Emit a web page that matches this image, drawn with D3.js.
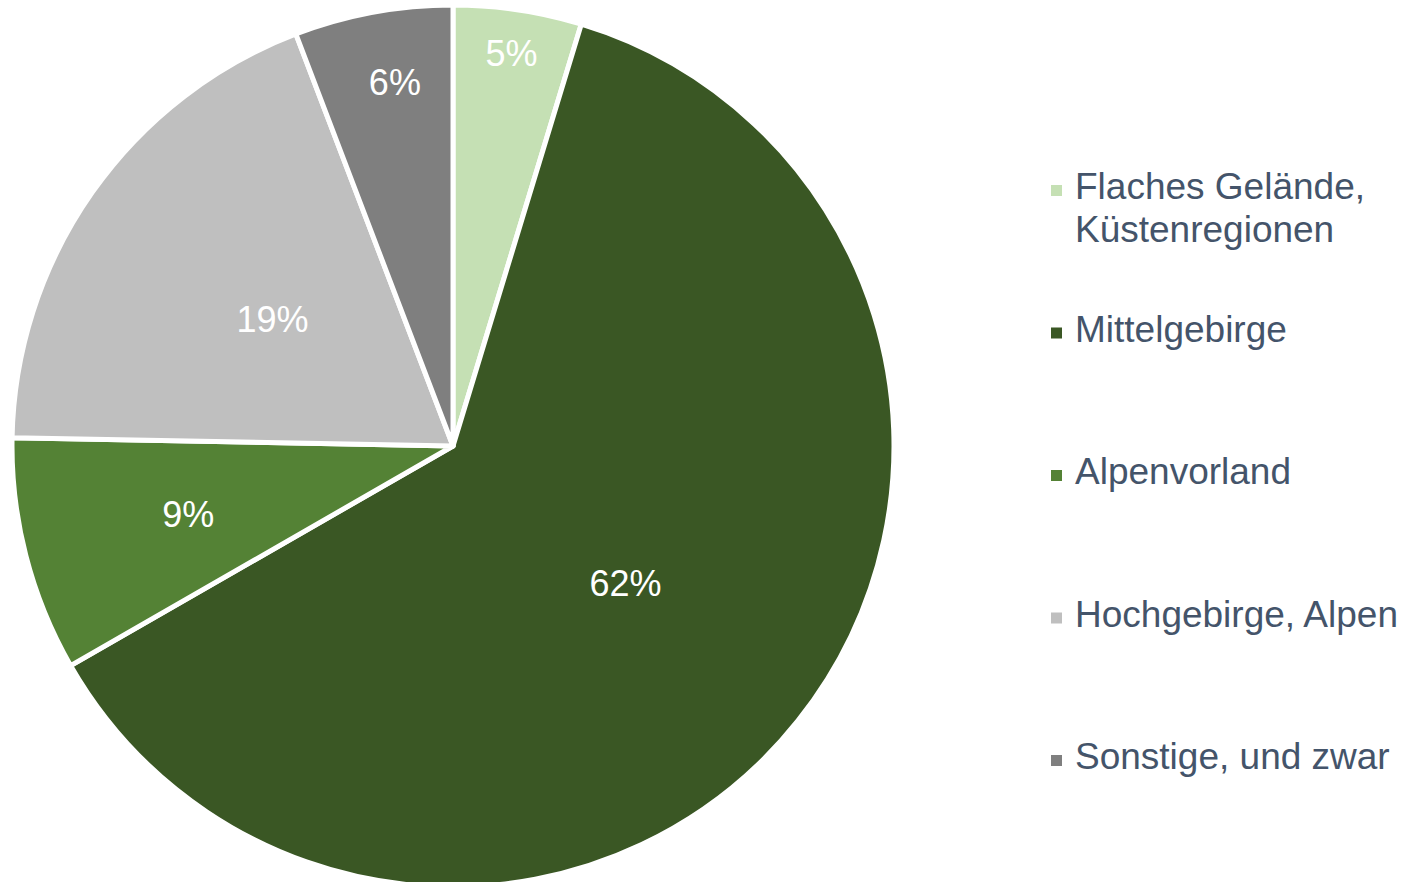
<!DOCTYPE html>
<html>
<head>
<meta charset="utf-8">
<script src="https://cdn.jsdelivr.net/npm/d3@7"></script>
<style>
  body { margin: 0; background: #fff; }
  text { font-family: "Liberation Sans", Arial, sans-serif; }
</style>
</head>
<body>
<div class="chart"></div>
<script>
var categories = [
    ["Flaches Gelände,", "Küstenregionen"],
    ["Mittelgebirge"],
    ["Alpenvorland"],
    ["Hochgebirge, Alpen"],
    ["Sonstige, und zwar"]
];
var shares = [4.7, 62.0, 8.6, 18.9, 5.8];
var colors = ["#C5E0B4", "#3A5724", "#548235", "#BFBFBF", "#7F7F7F"];
// how far out each percent label sits (fraction of radius), like Excel's best fit
var labelRadius = [0.9, 0.5, 0.62, 0.5, 0.84];

var svgWidth = 1403;
var svgHeight = 882;
var cx = 453, cy = 446, radius = 441;

var svg = d3.select(".chart")
    .append("svg")
    .attr("width", svgWidth)
    .attr("height", svgHeight);

var pieGroup = svg.append("g")
    .attr("transform", `translate(${cx}, ${cy})`);

var pie = d3.pie().sort(null).value(d => d);
var arcs = pie(shares);

var arc = d3.arc().innerRadius(0).outerRadius(radius);

pieGroup.selectAll("path")
    .data(arcs)
    .enter()
    .append("path")
    .attr("d", arc)
    .attr("fill", (d, i) => colors[i])
    .attr("stroke", "#fff")
    .attr("stroke-width", 5)
    .attr("stroke-linejoin", "round");

pieGroup.selectAll(".slice-label")
    .data(arcs)
    .enter()
    .append("text")
    .attr("class", "slice-label")
    .attr("transform", function(d, i) {
        var r = radius * labelRadius[i];
        var c = d3.arc().innerRadius(r).outerRadius(r).centroid(d);
        // Excel nudges the small top-left label a bit right
        var nudge = i === 4 ? 9 : 0;
        return `translate(${c[0] + nudge}, ${c[1]})`;
    })
    .attr("dy", "0.36em")
    .attr("text-anchor", "middle")
    .attr("font-size", "36px")
    .attr("fill", "#fff")
    .text(d => Math.round(d.data) + "%");

// Legend
var legendX = 1051, firstBaseline = 199, step = 142.5, lineHeight = 43;

var legend = svg.append("g");
var items = legend.selectAll("g")
    .data(categories)
    .enter()
    .append("g")
    .attr("transform", (d, i) => `translate(${legendX}, ${firstBaseline + i * step})`);

items.append("rect")
    .attr("x", 0)
    .attr("y", -14)
    .attr("width", 11)
    .attr("height", 11)
    .attr("fill", (d, i) => colors[i]);

items.append("text")
    .attr("x", 24)
    .attr("y", 0)
    .attr("font-size", "37px")
    .attr("fill", "#44546A")
    .selectAll("tspan")
    .data(d => d)
    .enter()
    .append("tspan")
    .attr("x", 24)
    .attr("dy", (d, j) => j === 0 ? 0 : lineHeight)
    .text(d => d);
</script>
</body>
</html>
